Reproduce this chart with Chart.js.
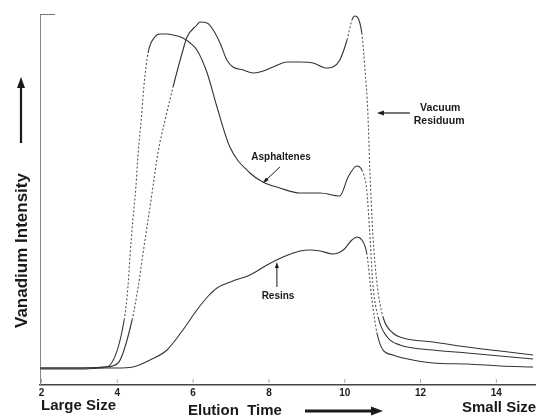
<!DOCTYPE html>
<html lang="en">
<head>
<meta charset="UTF-8">
<title>Vanadium Intensity vs Elution Time</title>
<script src="https://cdn.jsdelivr.net/npm/chart.js"></script>
<style>
  html, body { margin: 0; padding: 0; background: #fff; }
</style>
</head>
<body>
<canvas id="vanadium-chart" width="542" height="420"></canvas>
<script>
// elution time ticks (min)
const elutionTicks = [2, 4, 6, 8, 10, 12, 14];

// Vacuum Residuum
const vrTime = [1.97, 3.02, 3.68, 4.02, 4.39, 4.55, 4.68, 4.81, 4.94, 5.07, 5.26, 5.47, 5.71, 5.84, 6.10, 6.18, 6.37, 6.53, 6.71, 6.89, 7.05, 7.32, 7.58, 7.76, 8.11, 8.48, 8.82, 9.16, 9.53, 9.69, 9.87, 10.06, 10.19, 10.27, 10.35, 10.45, 10.53, 10.61, 10.66, 10.74, 10.85, 11.01, 11.27, 11.54, 12.33, 13.23, 14.10, 14.97];
const vrIntensity = [17, 17, 18, 22, 65, 98, 132, 165, 198, 232, 265, 298, 332, 348, 360, 363, 362, 355, 342, 325, 318, 315, 312, 313, 318, 323, 323, 322, 317, 318, 325, 345, 365, 369, 367, 352, 318, 272, 218, 152, 102, 68, 52, 47, 43, 38, 34, 30];

// Asphaltenes
const asphTime = [1.97, 3.02, 3.68, 3.81, 4.18, 4.28, 4.34, 4.41, 4.49, 4.55, 4.63, 4.70, 4.81, 4.99, 5.13, 5.30, 5.47, 5.73, 5.92, 6.10, 6.37, 6.63, 6.97, 7.50, 7.84, 8.29, 8.82, 9.35, 9.87, 10.09, 10.32, 10.45, 10.58, 10.66, 10.74, 10.88, 11.12, 11.46, 12.33, 13.23, 14.10, 14.97];
const asphIntensity = [17, 17, 18, 20, 65, 98, 132, 165, 198, 232, 265, 298, 332, 348, 351, 351, 350, 347, 342, 335, 312, 278, 238, 212, 203, 197, 192, 192, 189, 208, 219, 215, 195, 152, 102, 68, 48, 40, 35, 32, 29, 26];

// Resins
const resinTime = [1.97, 3.02, 3.68, 3.99, 4.41, 4.86, 5.31, 5.73, 6.10, 6.40, 6.63, 7.05, 7.50, 7.95, 8.37, 8.82, 9.08, 9.35, 9.69, 9.96, 10.19, 10.32, 10.45, 10.58, 10.72, 10.85, 11.01, 11.27, 11.54, 12.33, 13.23, 14.10, 14.97];
const resinIntensity = [16, 16, 17, 17, 18, 25, 35, 55, 75, 89, 97, 104, 110, 120, 128, 134, 135, 134, 131, 135, 145, 148, 145, 132, 85, 52, 35, 30, 27, 22, 21, 19, 18];

function toPoints(xs, ys) {
    return xs.map((x, i) => ({ x: x, y: ys[i] }));
}

// steep pen strokes came out dotted on the recorder
function isSteep(c) {
    return Math.abs((c.p1.y - c.p0.y) / ((c.p1.x - c.p0.x) || 0.01)) > 4;
}

function arrow(ctx, x1, y1, x2, y2, headLen, headW, lw) {
    const a = Math.atan2(y2 - y1, x2 - x1);
    ctx.lineWidth = lw;
    ctx.beginPath();
    ctx.moveTo(x1, y1);
    ctx.lineTo(x2 - Math.cos(a) * headLen * 0.6, y2 - Math.sin(a) * headLen * 0.6);
    ctx.stroke();
    ctx.beginPath();
    ctx.moveTo(x2, y2);
    ctx.lineTo(x2 - Math.cos(a) * headLen - Math.sin(a) * headW / 2, y2 - Math.sin(a) * headLen + Math.cos(a) * headW / 2);
    ctx.lineTo(x2 - Math.cos(a) * headLen + Math.sin(a) * headW / 2, y2 - Math.sin(a) * headLen - Math.cos(a) * headW / 2);
    ctx.closePath();
    ctx.fill();
}

const labelsPlugin = {
    id: 'labelsPlugin',
    afterDraw(chart) {
        const ctx = chart.ctx;
        const xs = chart.scales.x, ys = chart.scales.y;
        const X = v => xs.getPixelForValue(v);
        const Y = v => ys.getPixelForValue(v);
        const area = chart.chartArea;
        ctx.save();

        // corner tick at top of the intensity axis
        ctx.lineWidth = 1;
        ctx.strokeStyle = '#777';
        ctx.beginPath();
        ctx.moveTo(area.left, area.top + 0.5);
        ctx.lineTo(area.left + 15, area.top + 0.5);
        ctx.stroke();

        // small inner tick marks on the time axis
        ctx.strokeStyle = '#aaa';
        elutionTicks.forEach(t => {
            ctx.beginPath();
            ctx.moveTo(X(t), area.bottom - 2);
            ctx.lineTo(X(t), area.bottom - 6);
            ctx.stroke();
        });

        ctx.strokeStyle = '#1a1a1a';
        ctx.fillStyle = '#1a1a1a';

        // curve annotations
        ctx.font = 'bold 10px "Liberation Sans", Arial, sans-serif';
        ctx.textAlign = 'center';
        ctx.textBaseline = 'middle';
        ctx.fillText('Asphaltenes', X(8.32), Y(228));
        arrow(ctx, X(8.29), Y(218), X(7.84), Y(202), 6, 4, 1);

        ctx.fillText('Resins', X(8.24), Y(89));
        arrow(ctx, X(8.21), Y(98), X(8.21), Y(123), 6, 4, 1);

        ctx.font = 'bold 10.5px "Liberation Sans", Arial, sans-serif';
        ctx.fillText('Vacuum', X(12.52), Y(277));
        ctx.fillText('Residuum', X(12.49), Y(264));
        arrow(ctx, X(11.72), Y(272), X(10.85), Y(272), 7, 5, 1.2);

        // axis captions
        ctx.font = 'bold 15px "Liberation Sans", Arial, sans-serif';
        ctx.textAlign = 'left';
        ctx.textBaseline = 'alphabetic';
        ctx.fillText('Large Size', 41, 410);
        ctx.fillText('Elution  Time', 188, 415);
        ctx.fillText('Small Size', 462, 412);
        arrow(ctx, 305, 411, 383, 411, 12, 9, 3);

        ctx.save();
        ctx.translate(27, 328);
        ctx.rotate(-Math.PI / 2);
        ctx.font = 'bold 17px "Liberation Sans", Arial, sans-serif';
        ctx.fillText('Vanadium Intensity', 0, 0);
        ctx.restore();
        arrow(ctx, 21, 143, 21, 77, 11, 8, 2.2);

        ctx.restore();
    }
};

const lineStyle = {
    borderColor: '#333',
    borderWidth: 1.1,
    pointRadius: 0,
    fill: false,
    cubicInterpolationMode: 'monotone',
    clip: false,
    segment: {
        borderDash: c => isSteep(c) ? [2, 2] : undefined,
        borderColor: c => isSteep(c) ? '#555' : undefined
    }
};

new Chart(document.getElementById('vanadium-chart'), {
    type: 'line',
    data: {
        datasets: [
            Object.assign({ label: 'Vacuum Residuum', data: toPoints(vrTime, vrIntensity) }, lineStyle),
            Object.assign({ label: 'Asphaltenes', data: toPoints(asphTime, asphIntensity) }, lineStyle),
            Object.assign({ label: 'Resins', data: toPoints(resinTime, resinIntensity) }, lineStyle)
        ]
    },
    options: {
        responsive: false,
        animation: false,
        layout: { padding: { top: 14, right: 7, left: 0, bottom: 0 } },
        plugins: {
            legend: { display: false },
            tooltip: { enabled: false }
        },
        scales: {
            x: {
                type: 'linear',
                min: 1.96,
                max: 15.02,
                afterBuildTicks: scale => { scale.ticks = elutionTicks.map(v => ({ value: v })); },
                afterFit: scale => { scale.height = 35; },
                grid: { display: false, drawTicks: false },
                border: { color: '#444', width: 1.5 },
                ticks: {
                    padding: 2,
                    color: '#222',
                    font: { family: '"Liberation Sans", Arial, sans-serif', size: 10, weight: 'bold' }
                }
            },
            y: {
                min: 0,
                max: 371,
                afterFit: scale => { scale.width = 40; },
                grid: { display: false, drawTicks: false },
                border: { color: '#888', width: 1, dash: [48, 6] },
                ticks: { display: false }
            }
        }
    },
    plugins: [labelsPlugin]
});
</script>
</body>
</html>
